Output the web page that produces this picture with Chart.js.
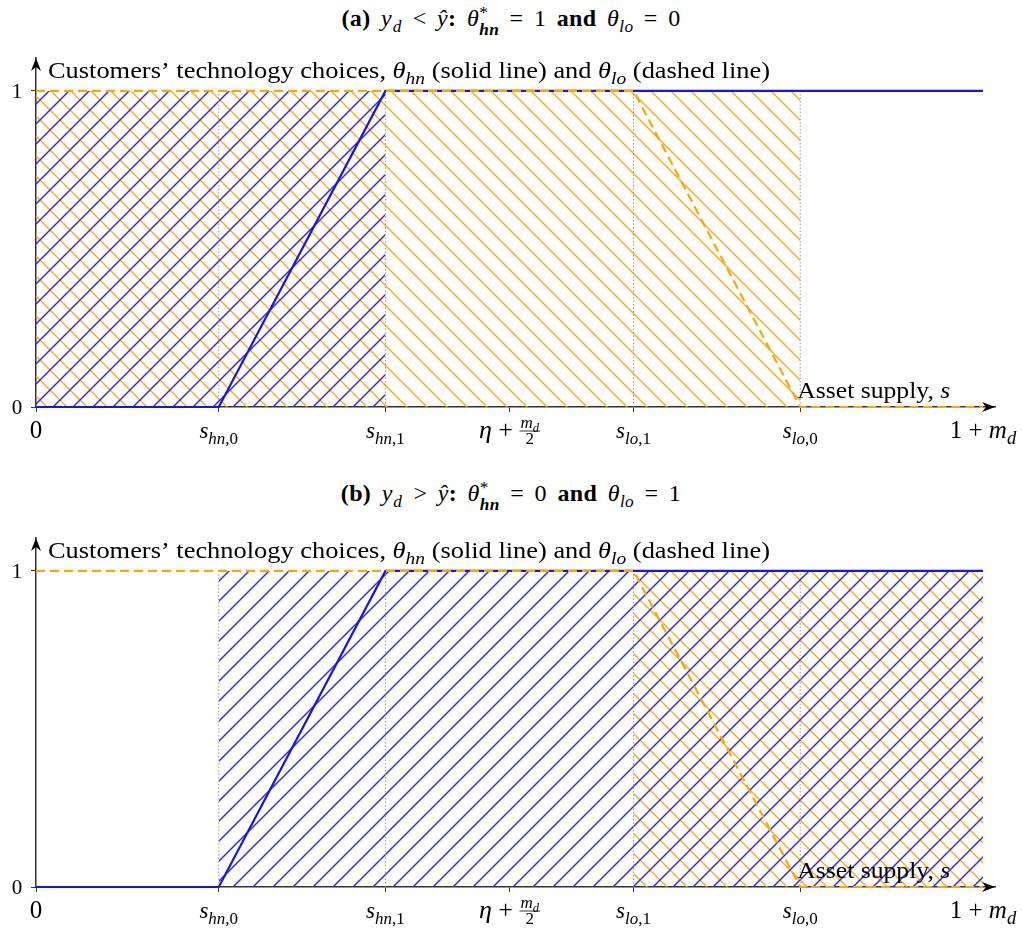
<!DOCTYPE html>
<html>
<head>
<meta charset="utf-8">
<script src="https://cdn.jsdelivr.net/npm/chart.js@4.4.1/dist/chart.umd.min.js"></script>
<style>
  body { margin: 0; background: #fff; width: 1022px; height: 937px; position: relative; overflow: hidden;
         font-family: "Liberation Serif", "Times New Roman", serif; color: #000; }
  .title { position: absolute; left: 0; width: 1022px; text-align: center; font-size: 24px; line-height: 28px;
           word-spacing: 4px; letter-spacing: 0.4px; }
  .title sub { line-height: 0; font-size: 0.72em; }
  .title .m { letter-spacing: 1px; }
  .ss { display: inline-block; vertical-align: -0.5em; font-size: 0.72em; line-height: 0.95em; text-align: left; }
  .ss span { display: block; }
  canvas { position: absolute; left: 0; }
  #chartA { top: 40px; }
  #chartB { top: 520px; }
</style>
</head>
<body>
<div class="title" style="top:4px"><b>(a)</b> <i class="m">y<sub>d</sub></i> &lt; <i>ŷ</i><b>:</b> <i>θ</i><span class="ss"><span>*</span><span><b><i>hn</i></b></span></span> = 1 <b>and</b> <i>θ<sub>lo</sub></i> = 0</div>
<canvas id="chartA" width="1022" height="417"></canvas>
<div class="title" style="top:479px"><b>(b)</b> <i class="m">y<sub>d</sub></i> &gt; <i>ŷ</i><b>:</b> <i>θ</i><span class="ss"><span>*</span><span><b><i>hn</i></b></span></span> = 0 <b>and</b> <i>θ<sub>lo</sub></i> = 1</div>
<canvas id="chartB" width="1022" height="417"></canvas>
<script>
// asset supply positions (0 .. 1+m_d scaled to 0 .. 1)
const tickValues = [0, 0.193, 0.369, 0.5, 0.631, 0.807, 1];
const tickLabels = ['$0$', '$s_hn,0$', '$s_hn,1$', '$η + m_d/2$', '$s_lo,1$', '$s_lo,0$', '$1 + m_d$'];
const yTickValues = [0, 1];
const yTickLabels = ['0', '1'];

// technology choices
const thetaHnX = [0, 0.193, 0.369, 1];
const thetaHnY = [0, 0, 1, 1];
const thetaLoX = [0, 0.631, 0.807, 1];
const thetaLoY = [1, 1, 0, 0];

// dotted guides and hatched regions
const guideX = [0.193, 0.369, 0.631, 0.807];
const hatchBlueA = [0, 0.369];
const hatchOrangeA = [0, 0.807];
const hatchBlueB = [0.193, 1];
const hatchOrangeB = [0.631, 1];

const yAxisLabel = 'Customers’ technology choices, $θ_hn$ (solid line) and $θ_lo$ (dashed line)';
const xAxisLabel = 'Asset supply, $s$';

const FONT = '"Liberation Serif", "Times New Roman", serif';
const BLUE = 'rgb(20,20,235)';
const ORANGE = 'rgb(255,165,0)';
const X_MAX = 1.0127;
const Y_MAX = 1.104;

const pts = (xs, ys) => xs.map((x, i) => ({ x, y: ys[i] }));

function makeHatch(color, forward) {
  const s = 20;
  const c = document.createElement('canvas');
  c.width = s; c.height = s;
  const g = c.getContext('2d');
  g.strokeStyle = color;
  g.lineWidth = 1.5;
  g.beginPath();
  if (forward) {
    g.moveTo(0, s); g.lineTo(s, 0);
    g.moveTo(-2, 2); g.lineTo(2, -2);
    g.moveTo(s - 2, s + 2); g.lineTo(s + 2, s - 2);
  } else {
    g.moveTo(0, 0); g.lineTo(s, s);
    g.moveTo(-2, s - 2); g.lineTo(2, s + 2);
    g.moveTo(s - 2, -2); g.lineTo(s + 2, 2);
  }
  g.stroke();
  return g.createPattern(c, 'repeat');
}

// tiny rich text: $..$ is math (letters italic), _ starts a subscript up to the next space
function parseRich(str) {
  const runs = [];
  let math = false, sub = false;
  for (const ch of str) {
    if (ch === '$') { math = !math; sub = false; continue; }
    if (math && ch === '_') { sub = true; continue; }
    if (ch === ' ') sub = false;
    const it = math && /[A-Za-z\u03b1-\u03c9]/.test(ch);
    const last = runs[runs.length - 1];
    if (last && last.it === it && last.sub === sub) last.t += ch;
    else runs.push({ t: ch, it, sub });
  }
  return runs;
}

function fontFor(run, size) {
  const sz = run.sub ? size * 0.74 : size;
  return (run.it ? 'italic ' : '') + sz + 'px ' + FONT;
}

function richWidth(ctx, str, size) {
  let w = 0;
  parseRich(str).forEach(r => { ctx.font = fontFor(r, size); w += ctx.measureText(r.t).width; });
  return w;
}

// sx stretches the text horizontally a little, the source font is wider than Times
function drawRich(ctx, str, x, y, size, align, sx = 1) {
  const w = richWidth(ctx, str, size) * sx;
  let cx = align === 'center' ? x - w / 2 : align === 'right' ? x - w : x;
  ctx.save();
  ctx.translate(cx, y);
  ctx.scale(sx, 1);
  ctx.textAlign = 'left';
  ctx.textBaseline = 'alphabetic';
  ctx.fillStyle = '#000';
  let px = 0;
  parseRich(str).forEach(r => {
    ctx.font = fontFor(r, size);
    ctx.fillText(r.t, px, r.sub ? size * 0.25 : 0);
    px += ctx.measureText(r.t).width;
  });
  ctx.restore();
}

function drawTickLabel(ctx, label, x, y) {
  if (!label.includes('/')) {
    const size = label.includes('_hn') || label.includes('_lo') ? 23 : 25;
    drawRich(ctx, label, x, y, size, 'center');
    return;
  }
  const inner = label.replace(/\$/g, '');
  const sp = inner.lastIndexOf(' ');
  const head = '$' + inner.slice(0, sp + 1) + '$';
  const [num, den] = inner.slice(sp + 1).split('/');
  const hw = richWidth(ctx, head, 26);
  const nw = richWidth(ctx, '$' + num + '$', 17);
  const dw = richWidth(ctx, '$' + den + '$', 17);
  const fw = Math.max(nw, dw) + 2;
  const left = x - (hw + fw) / 2;
  drawRich(ctx, head, left, y, 26, 'left');
  const fc = left + hw + fw / 2;
  const bar = y - 7;
  ctx.strokeStyle = '#000';
  ctx.lineWidth = 0.8;
  ctx.beginPath(); ctx.moveTo(fc - fw / 2, bar); ctx.lineTo(fc + fw / 2, bar); ctx.stroke();
  drawRich(ctx, '$' + num + '$', fc, bar - 3, 17, 'center');
  drawRich(ctx, '$' + den + '$', fc, bar + 13, 17, 'center');
}

function arrowHead(ctx, x, y, dir) {
  ctx.fillStyle = '#000';
  ctx.beginPath();
  if (dir === 'up') {
    ctx.moveTo(x, y); ctx.lineTo(x - 5, y + 13); ctx.lineTo(x, y + 9); ctx.lineTo(x + 5, y + 13);
  } else {
    ctx.moveTo(x, y); ctx.lineTo(x - 13, y - 5); ctx.lineTo(x - 9, y); ctx.lineTo(x - 13, y + 5);
  }
  ctx.closePath();
  ctx.fill();
}

const decor = {
  id: 'decor',
  afterDraw(chart) {
    const { ctx, chartArea, scales } = chart;
    const xs = scales.x, ys = scales.y;
    ctx.save();
    arrowHead(ctx, chartArea.left, chartArea.top, 'up');
    arrowHead(ctx, chartArea.right, chartArea.bottom, 'right');
    const y0 = ys.getPixelForValue(0);
    tickValues.forEach((v, i) => drawTickLabel(ctx, tickLabels[i], xs.getPixelForValue(v), y0 + 31));
    yTickValues.forEach((v, i) => {
      drawRich(ctx, yTickLabels[i], 17, ys.getPixelForValue(v) + 7, 21, 'center');
    });
    drawRich(ctx, yAxisLabel, chartArea.left + 12, ys.getPixelForValue(1) - 13, 24, 'left', 1.1);
    drawRich(ctx, xAxisLabel, xs.getPixelForValue(tickValues[5]) - 3, y0 - 9, 24, 'left', 1.07);
    ctx.restore();
  }
};

function hatchSet(span, pattern) {
  return { data: pts(span, [1, 1]), fill: 'origin', backgroundColor: pattern, borderWidth: 0,
           pointRadius: 0, order: 3 };
}

function buildChart(id, blueSpan, orangeSpan) {
  const ctx = document.getElementById(id).getContext('2d');
  const guides = guideX.map(v => ({
    data: pts([v, v], [0, 1]), borderColor: '#9a9a9a', borderWidth: 1, borderDash: [1.5, 2],
    pointRadius: 0, fill: false, order: 2
  }));
  return new Chart(ctx, {
    type: 'line',
    data: {
      datasets: [
        { data: pts(thetaLoX, thetaLoY), borderColor: ORANGE, borderWidth: 2.2, borderDash: [9, 5],
          pointRadius: 0, fill: false, order: 0 },
        { data: pts(thetaHnX, thetaHnY), borderColor: BLUE, borderWidth: 2.2,
          pointRadius: 0, fill: false, order: 1 },
        ...guides,
        hatchSet(blueSpan, makeHatch('rgb(45,45,240)', true)),
        hatchSet(orangeSpan, makeHatch('rgb(255,172,30)', false))
      ]
    },
    options: {
      responsive: false,
      animation: false,
      events: [],
      clip: false,
      layout: { padding: { top: 18, right: 27, left: 0, bottom: 0 } },
      plugins: { legend: { display: false }, tooltip: { enabled: false } },
      scales: {
        x: {
          type: 'linear', min: 0, max: X_MAX,
          afterBuildTicks: s => { s.ticks = tickValues.slice(0, 6).map(v => ({ value: v })); },
          afterFit: s => { s.height = 50; },
          ticks: { display: false },
          grid: { drawOnChartArea: false, drawTicks: true, tickLength: 5, color: '#333', lineWidth: 1 },
          border: { color: '#333', width: 1.5 }
        },
        y: {
          min: 0, max: Y_MAX,
          afterBuildTicks: s => { s.ticks = yTickValues.map(v => ({ value: v })); },
          afterFit: s => { s.width = 36; },
          ticks: { display: false },
          grid: { drawOnChartArea: false, drawTicks: true, tickLength: 5, color: '#333', lineWidth: 1 },
          border: { color: '#333', width: 1.5 }
        }
      }
    },
    plugins: [decor]
  });
}

buildChart('chartA', hatchBlueA, hatchOrangeA);
buildChart('chartB', hatchBlueB, hatchOrangeB);
</script>
</body>
</html>
